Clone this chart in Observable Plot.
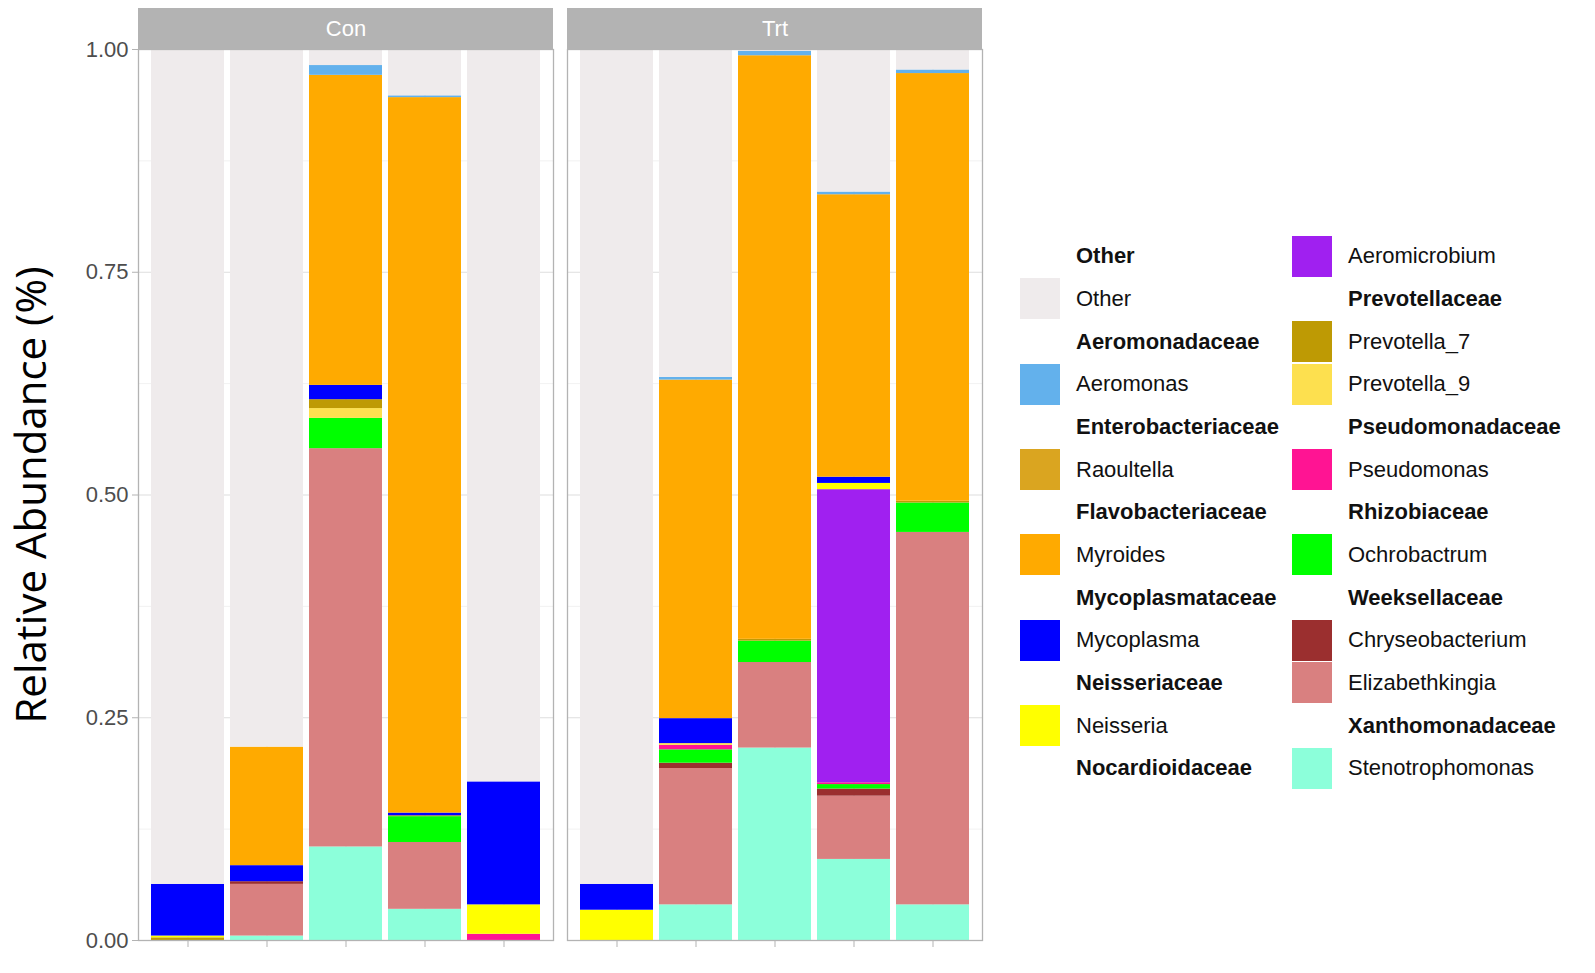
<!DOCTYPE html>
<html>
<head>
<meta charset="utf-8">
<script src="https://cdn.jsdelivr.net/npm/d3@7"></script>
<script src="https://cdn.jsdelivr.net/npm/@observablehq/plot@0.6"></script>
<style>
  html, body { margin: 0; padding: 0; background: #fff; }
  #wrap { position: relative; width: 1595px; height: 973px; overflow: hidden; }
  #chart { position: absolute; left: 0; top: 0; }
  #ylab { position: absolute; left: 29px; top: 495px; transform: translate(-50%, -50%) rotate(-90deg);
          font-family: "Open Sans", sans-serif; font-size: 42px; color: #000; white-space: nowrap; }
  #legend { position: absolute; left: 1020px; top: 235px; display: flex; gap: 0; }
  .col { width: 272px; }
  .row { height: 42.67px; display: flex; align-items: center; font-family: "Liberation Sans", Arial, sans-serif; font-size: 22px; color: #111; }
  .sw { width: 40px; height: 41px; margin-right: 16px; flex: none; }
  .hd { font-weight: bold; }
</style>
</head>
<body>
<div id="wrap">
  <div id="chart"></div>
  <div id="ylab">Relative Abundance (%)</div>
  <div id="legend"></div>
</div>
<script>
// ---- data ----
const groups = ["Con", "Trt"];
const positions = [1, 2, 3, 4, 5];
const sampleGroup = ["Con", "Con", "Con", "Con", "Con", "Trt", "Trt", "Trt", "Trt", "Trt"];
const samplePos = [1, 2, 3, 4, 5, 1, 2, 3, 4, 5];

// legend order (top of stack first)
const genera = ["Other", "Aeromonas", "Raoultella", "Myroides", "Mycoplasma", "Neisseria", "Aeromicrobium",
  "Prevotella_7", "Prevotella_9", "Pseudomonas", "Ochrobactrum", "Chryseobacterium", "Elizabethkingia", "Stenotrophomonas"];
const families = ["Other", "Aeromonadaceae", "Enterobacteriaceae", "Flavobacteriaceae", "Mycoplasmataceae", "Neisseriaceae",
  "Nocardioidaceae", "Prevotellaceae", "Prevotellaceae", "Pseudomonadaceae", "Rhizobiaceae", "Weeksellaceae", "Weeksellaceae", "Xanthomonadaceae"];
const colors = ["#EFEBEC", "#63B1EC", "#DAA520", "#FFAA00", "#0000FF", "#FFFF00", "#A020F0",
  "#BE9A04", "#FDE04F", "#FF1493", "#00FF00", "#9B2F2F", "#D98080", "#8CFFDA"];

// relative abundance per sample: Con1..Con5, Trt1..Trt5
const Other            = [0.937, 0.783, 0.018, 0.052, 0.822, 0.937, 0.368, 0.002, 0.160, 0.023];
const Aeromonas        = [0,     0,     0.011, 0.002, 0,     0,     0.003, 0.005, 0.003, 0.004];
const Raoultella       = [0,     0,     0,     0,     0,     0,     0,     0,     0,     0];
const Myroides         = [0,     0.133, 0.348, 0.803, 0,     0,     0.380, 0.655, 0.317, 0.480];
const Mycoplasma       = [0.058, 0.018, 0.016, 0.003, 0.138, 0.029, 0.028, 0,     0.007, 0];
const Neisseria        = [0.002, 0,     0,     0,     0.033, 0.034, 0,     0,     0.007, 0];
const Aeromicrobium    = [0,     0,     0,     0,     0,     0,     0,     0,     0.329, 0];
const Prevotella_7     = [0.003, 0,     0.010, 0.001, 0,     0,     0,     0.002, 0,     0.002];
const Prevotella_9     = [0,     0,     0.011, 0,     0,     0,     0.002, 0,     0,     0];
const Pseudomonas      = [0,     0,     0,     0,     0.007, 0,     0.005, 0,     0.002, 0];
const Ochrobactrum     = [0,     0,     0.034, 0.029, 0,     0,     0.015, 0.024, 0.005, 0.033];
const Chryseobacterium = [0,     0.003, 0,     0,     0,     0,     0.006, 0,     0.008, 0];
const Elizabethkingia  = [0,     0.058, 0.447, 0.075, 0,     0,     0.153, 0.096, 0.071, 0.418];
const Stenotrophomonas = [0,     0.005, 0.105, 0.035, 0,     0,     0.040, 0.216, 0.091, 0.040];

const yTicks = [0, 0.25, 0.5, 0.75, 1];
const yMinor = [0.125, 0.375, 0.625, 0.875];

const series = [Other, Aeromonas, Raoultella, Myroides, Mycoplasma, Neisseria, Aeromicrobium,
  Prevotella_7, Prevotella_9, Pseudomonas, Ochrobactrum, Chryseobacterium, Elizabethkingia, Stenotrophomonas];

// long table, bottom of stack first
const table = [];
for (let g = genera.length - 1; g >= 0; g--) {
  series[g].forEach((v, i) => table.push({genus: genera[g], group: sampleGroup[i], pos: samplePos[i], value: v}));
}

const chart = Plot.plot({
  width: 990,
  height: 973,
  marginLeft: 138,
  marginRight: 8,
  marginTop: 49,
  marginBottom: 33,
  style: {fontFamily: "Liberation Sans, Arial, sans-serif", fontSize: "22px", color: "#4D4D4D", background: "white"},
  fx: {domain: groups, paddingInner: 0.033, paddingOuter: 0, axis: null},
  x: {domain: positions, paddingInner: 0.075, paddingOuter: 0.1375, axis: null},
  y: {domain: [0, 1], axis: null},
  color: {domain: genera, range: colors, legend: false},
  marks: [
    Plot.ruleY(yMinor, {stroke: "#EBEBEB", strokeWidth: 0.7}),
    Plot.ruleY(yTicks, {stroke: "#DEDEDE", strokeWidth: 1.1}),
    Plot.ruleX(positions, {x: d => d, stroke: "#DEDEDE", strokeWidth: 1.1}),
    Plot.barY(table, {fx: "group", x: "pos", y: "value", fill: "genus", order: null}),
    Plot.frame({stroke: "#B3B3B3", strokeWidth: 1.3}),
    Plot.barY(groups, {fx: d => d, y1: () => 1.0, y2: () => 1.046, fill: "#B3B3B3"}),
    Plot.text(groups, {fx: d => d, y: () => 1.023, text: d => d, fill: "white", fontSize: 22}),
    Plot.axisY({ticks: yTicks, tickFormat: d3.format(".2f"), label: null, stroke: "#B3B3B3", tickSize: 6, tickPadding: 4}),
    Plot.axisX({tickFormat: () => "", label: null, stroke: "#B3B3B3", tickSize: 7})
  ]
});
document.getElementById("chart").appendChild(chart);

// legend: family headers (bold) followed by their genera
const rows = [];
genera.forEach((g, i) => {
  if (i === 0 || families[i] !== families[i - 1]) rows.push({text: families[i], header: true});
  rows.push({text: g, header: false, color: colors[i]});
});
const half = Math.ceil(rows.length / 2);
const legend = document.getElementById("legend");
[rows.slice(0, half), rows.slice(half)].forEach(colRows => {
  const col = document.createElement("div");
  col.className = "col";
  colRows.forEach(r => {
    const row = document.createElement("div");
    row.className = "row";
    const sw = document.createElement("div");
    sw.className = "sw";
    if (!r.header) sw.style.background = r.color;
    const t = document.createElement("span");
    t.textContent = r.text;
    if (r.header) t.className = "hd";
    row.appendChild(sw);
    row.appendChild(t);
    col.appendChild(row);
  });
  legend.appendChild(col);
});
</script>
</body>
</html>
